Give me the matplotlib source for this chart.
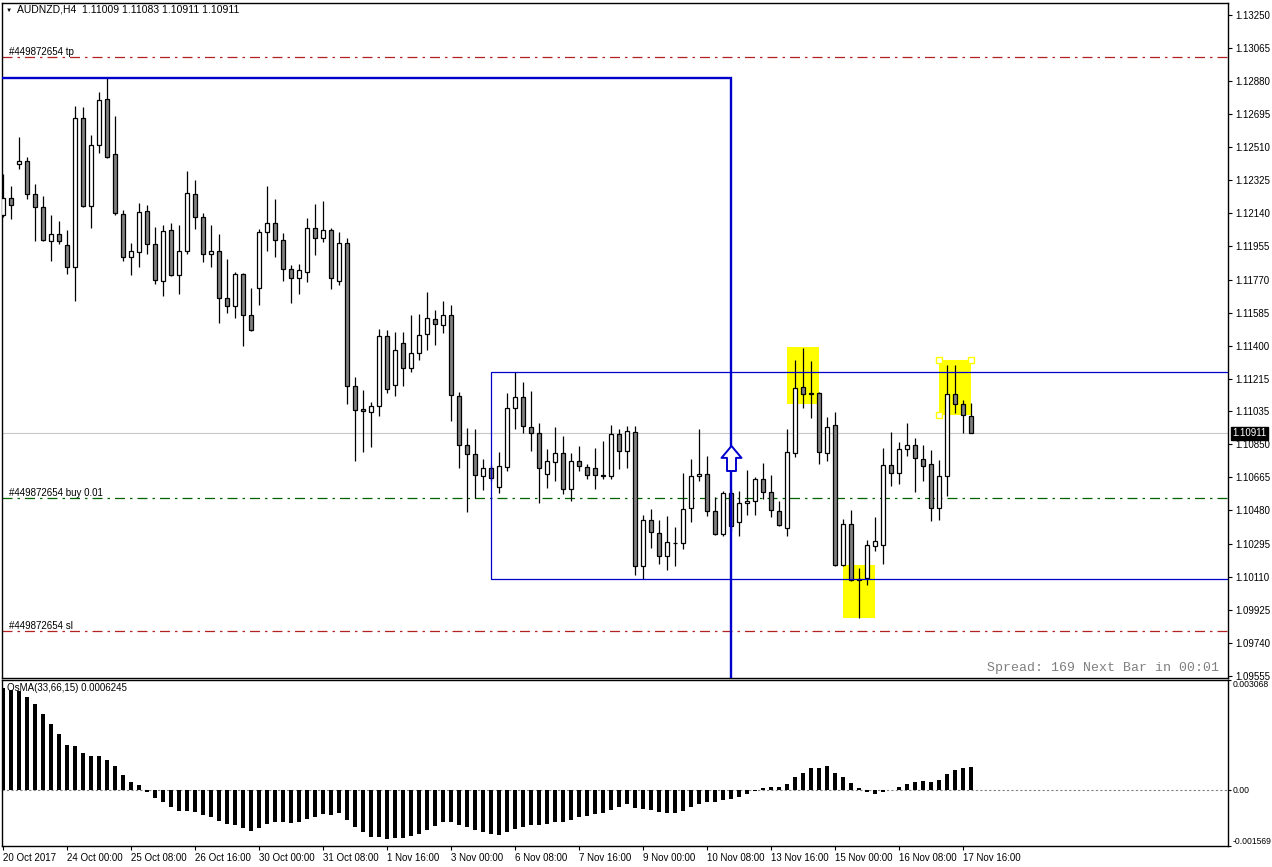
import numpy as np
import matplotlib
matplotlib.use('Agg')
import matplotlib.pyplot as plt
from matplotlib.patches import Rectangle
from matplotlib.path import Path

plt.rcParams['font.family'] = ['Liberation Sans', 'DejaVu Sans']

# AUDNZD H4 candles, 20 Oct 2017 16:00 .. 17 Nov 2017 20:00
opens = [1.12129, 1.12228, 1.12413, 1.12435, 1.12250, 1.12178, 1.11987, 1.12026, 1.11965, 1.11842,
         1.12670, 1.12181, 1.12519, 1.12776, 1.12474, 1.12138, 1.11898, 1.11926, 1.12155, 1.11971,
         1.11763, 1.12049, 1.11797, 1.11931, 1.12250, 1.12122, 1.11915, 1.11931, 1.11668, 1.11624,
         1.11803, 1.11573, 1.11724, 1.12038, 1.12088, 1.11993, 1.11831, 1.11780, 1.11814, 1.12060,
         1.12004, 1.12049, 1.11763, 1.11976, 1.11176, 1.11047, 1.11030, 1.11064, 1.11456, 1.11182,
         1.11417, 1.11277, 1.11361, 1.11467, 1.11551, 1.11517, 1.11573, 1.11120, 1.10846, 1.10795,
         1.10672, 1.10717, 1.10611, 1.10723, 1.11053, 1.11114, 1.10946, 1.10913, 1.10683, 1.10751,
         1.10801, 1.10600, 1.10756, 1.10723, 1.10717, 1.10678, 1.10672, 1.10907, 1.10812, 1.10919,
         1.10169, 1.10426, 1.10353, 1.10225, 1.10299, 1.10297, 1.10493, 1.10672, 1.10683, 1.10476,
         1.10348, 1.10579, 1.10413, 1.10521, 1.10532, 1.10655, 1.10583, 1.10476, 1.10381, 1.10801,
         1.11170, 1.11137, 1.11137, 1.10801, 1.10958, 1.10174, 1.10404, 1.10096, 1.10101, 1.10281,
         1.10286, 1.10734, 1.10689, 1.10823, 1.10846, 1.10767, 1.10739, 1.10493, 1.10672, 1.11131,
         1.11075, 1.11009]
highs = [1.12357, 1.12295, 1.12565, 1.12457, 1.12306, 1.12239, 1.12129, 1.12095, 1.12045, 1.12737,
         1.12732, 1.12575, 1.12816, 1.12895, 1.12683, 1.12161, 1.11976, 1.12200, 1.12189, 1.12062,
         1.12073, 1.12088, 1.12073, 1.12375, 1.12325, 1.12144, 1.12073, 1.12023, 1.11883, 1.11814,
         1.11806, 1.11722, 1.12054, 1.12291, 1.12218, 1.12028, 1.11853, 1.11859, 1.12116, 1.12190,
         1.12211, 1.12060, 1.12038, 1.12004, 1.11226, 1.11154, 1.11086, 1.11495, 1.11489, 1.11478,
         1.11478, 1.11573, 1.11579, 1.11702, 1.11601, 1.11652, 1.11629, 1.11142, 1.10943, 1.10935,
         1.10769, 1.10736, 1.10808, 1.11135, 1.11252, 1.11198, 1.11150, 1.10971, 1.10823, 1.10948,
         1.10896, 1.10801, 1.10840, 1.10739, 1.10829, 1.10868, 1.10959, 1.10935, 1.10952, 1.10952,
         1.10454, 1.10488, 1.10426, 1.10448, 1.10387, 1.10689, 1.10767, 1.10935, 1.10784, 1.10555,
         1.10590, 1.10601, 1.10590, 1.10708, 1.10667, 1.10745, 1.10678, 1.10532, 1.10935, 1.11323,
         1.11385, 1.11317, 1.11140, 1.11002, 1.11032, 1.10432, 1.10482, 1.10157, 1.10314, 1.10443,
         1.10829, 1.10919, 1.10863, 1.10969, 1.10885, 1.10846, 1.10818, 1.10762, 1.11293, 1.11295,
         1.11098, 1.11083]
lows = [1.12119, 1.12108, 1.12390, 1.12222, 1.11985, 1.11985, 1.11873, 1.11968, 1.11800, 1.11649,
        1.12175, 1.12058, 1.12478, 1.12448, 1.12131, 1.11873, 1.11795, 1.11840, 1.11912, 1.11744,
        1.11677, 1.11789, 1.11689, 1.11912, 1.12052, 1.11868, 1.11840, 1.11526, 1.11582, 1.11554,
        1.11398, 1.11480, 1.11627, 1.11929, 1.11896, 1.11763, 1.11638, 1.11689, 1.11756, 1.11907,
        1.11982, 1.11716, 1.11739, 1.11075, 1.10756, 1.10807, 1.10835, 1.11008, 1.11137, 1.11120,
        1.11176, 1.11254, 1.11321, 1.11377, 1.11405, 1.11473, 1.10980, 1.10717, 1.10474, 1.10549,
        1.10596, 1.10646, 1.10575, 1.10702, 1.10933, 1.10911, 1.10810, 1.10519, 1.10605, 1.10644,
        1.10572, 1.10532, 1.10700, 1.10655, 1.10600, 1.10655, 1.10655, 1.10711, 1.10717, 1.10118,
        1.10096, 1.10269, 1.10180, 1.10146, 1.10169, 1.10264, 1.10415, 1.10644, 1.10448, 1.10342,
        1.10337, 1.10366, 1.10338, 1.10457, 1.10452, 1.10544, 1.10441, 1.10392, 1.10337, 1.10776,
        1.11051, 1.10995, 1.10737, 1.10754, 1.10169, 1.10169, 1.10086, 1.09878, 1.10062, 1.10253,
        1.10180, 1.10616, 1.10628, 1.10784, 1.10581, 1.10644, 1.10420, 1.10426, 1.10560, 1.11023,
        1.10913, 1.10911]
closes = [1.12228, 1.12189, 1.12435, 1.12250, 1.12178, 1.11991, 1.12026, 1.11987, 1.11842, 1.12670,
          1.12181, 1.12519, 1.12771, 1.12452, 1.12144, 1.11898, 1.11931, 1.12150, 1.11971, 1.11769,
          1.12043, 1.11797, 1.11931, 1.12256, 1.12122, 1.11915, 1.11931, 1.11668, 1.11624, 1.11803,
          1.11573, 1.11489, 1.12038, 1.12088, 1.11993, 1.11831, 1.11780, 1.11825, 1.12060, 1.12004,
          1.12049, 1.11780, 1.11976, 1.11176, 1.11042, 1.11036, 1.11064, 1.11456, 1.11159, 1.11377,
          1.11277, 1.11361, 1.11461, 1.11556, 1.11523, 1.11573, 1.11126, 1.10846, 1.10795, 1.10678,
          1.10717, 1.10661, 1.10728, 1.11053, 1.11114, 1.10952, 1.10913, 1.10717, 1.10756, 1.10801,
          1.10600, 1.10756, 1.10728, 1.10678, 1.10678, 1.10675, 1.10907, 1.10812, 1.10924, 1.10169,
          1.10426, 1.10359, 1.10225, 1.10303, 1.10297, 1.10488, 1.10672, 1.10683, 1.10476, 1.10348,
          1.10577, 1.10394, 1.10521, 1.10532, 1.10655, 1.10583, 1.10482, 1.10398, 1.10807, 1.11165,
          1.11131, 1.11131, 1.10807, 1.10946, 1.10174, 1.10404, 1.10090, 1.10094, 1.10286, 1.10309,
          1.10734, 1.10689, 1.10823, 1.10846, 1.10773, 1.10728, 1.10493, 1.10672, 1.11131, 1.11075,
          1.11014, 1.10911]

# OsMA(33,66,15) histogram
osma = [0.002848, 0.002802, 0.002755, 0.002598, 0.002403, 0.002124, 0.001846, 0.001568, 0.001262, 0.001234,
        0.001039, 0.000956, 0.000956, 0.000844, 0.000677, 0.000427, 0.000232, 0.000121, -0.000065, -0.000223,
        -0.000353, -0.000482, -0.000594, -0.000603, -0.000622, -0.000705, -0.000761, -0.000881, -0.000956, -0.000983,
        -0.001067, -0.001150, -0.001067, -0.000956, -0.000909, -0.000909, -0.000928, -0.000900, -0.000816, -0.000761,
        -0.000677, -0.000705, -0.000649, -0.000844, -0.001039, -0.001178, -0.001317, -0.001317, -0.001373, -0.001345,
        -0.001336, -0.001290, -0.001234, -0.001123, -0.001011, -0.000909, -0.000909, -0.000983, -0.001039, -0.001123,
        -0.001178, -0.001234, -0.001262, -0.001187, -0.001104, -0.001048, -0.000983, -0.000983, -0.000956, -0.000900,
        -0.000900, -0.000844, -0.000761, -0.000733, -0.000677, -0.000649, -0.000566, -0.000482, -0.000399, -0.000510,
        -0.000538, -0.000566, -0.000622, -0.000649, -0.000649, -0.000594, -0.000482, -0.000399, -0.000343, -0.000343,
        -0.000288, -0.000260, -0.000204, -0.000121, -0.000037, 0.000046, 0.000074, 0.000074, 0.000158, 0.000353,
        0.000482, 0.000603, 0.000603, 0.000659, 0.000464, 0.000353, 0.000186, 0.000046, -0.000065, -0.000121,
        -0.000065, -0.000009, 0.000074, 0.000158, 0.000213, 0.000241, 0.000213, 0.000269, 0.000436, 0.000547,
        0.000603, 0.0006245]

time_labels = ['20 Oct 2017', '24 Oct 00:00', '25 Oct 08:00', '26 Oct 16:00', '30 Oct 00:00',
               '31 Oct 08:00', '1 Nov 16:00', '3 Nov 00:00', '6 Nov 08:00', '7 Nov 16:00',
               '9 Nov 00:00', '10 Nov 08:00', '13 Nov 16:00', '15 Nov 00:00', '16 Nov 08:00',
               '17 Nov 16:00']
price_ticks = [1.13250, 1.13065, 1.12880, 1.12695, 1.12510, 1.12325, 1.12140, 1.11955, 1.11770,
               1.11585, 1.11400, 1.11215, 1.11035, 1.10850, 1.10665, 1.10480, 1.10295, 1.10110,
               1.09925, 1.09740, 1.09555]
osma_ticks = [0.003068, 0.0, -0.001569]
osma_tick_labels = ['0.003068', '0.00', '-0.001569']

# order levels
tp_price = 1.13015
buy_price = 1.10551
sl_price = 1.09807
last_price = 1.10911

# drawn objects (bar index, price)
big_box = (91, 1.12895)             # right edge / top of the large blue box
range_box = (61, 1.10096, 1.11254)  # left edge, bottom, top of the range box
highlights = [(98, 102, 1.11075, 1.11392),
              (105, 109, 1.09878, 1.10176),
              (117, 121, 1.11015, 1.11323)]
arrow_pos = (91, 1.10772)

W, H = 1272, 867
fig = plt.figure(figsize=(W / 100, H / 100), dpi=100)
ax = fig.add_axes([2 / W, 1 - 678 / H, 1226 / W, 675 / H])
ax2 = fig.add_axes([2 / W, 1 - 846 / H, 1226 / W, 166 / H])

o = np.array(opens)
h = np.array(highs)
l = np.array(lows)
c = np.array(closes)
x = np.arange(len(o))
up = c >= o

blue = '#0000CD'

# highlight boxes behind everything
for x0, x1, p0, p1 in highlights:
    ax.add_patch(Rectangle((x0, p0), x1 - x0, p1 - p0, facecolor='#FFFF00', edgecolor='none', zorder=1))
hx0, hx1, hp0, hp1 = highlights[2]
ax.plot([hx0, hx1, hx0], [hp1, hp1, hp0], ls='none', marker='s', ms=4,
        mfc='white', mec='#FFFF00', mew=1, zorder=6)

# order lines
dashdot = (0, (8, 4, 2, 4))
ax.axhline(tp_price, color='#B22222', lw=0.9, ls=dashdot, zorder=2)
ax.axhline(buy_price, color='#006400', lw=0.9, ls=dashdot, zorder=2)
ax.axhline(sl_price, color='#B22222', lw=0.9, ls=dashdot, zorder=2)
ax.axhline(last_price, color='#C8C8C8', lw=0.8, zorder=2)
ytr = ax.get_yaxis_transform()
for p, txt in [(tp_price, '#449872654 tp'), (buy_price, '#449872654 buy 0.01'), (sl_price, '#449872654 sl')]:
    ax.text(0.0057, p, txt, transform=ytr, fontsize=7, va='bottom', ha='left', zorder=7)

# candles
ax.vlines(x, l, h, color='black', lw=0.9, zorder=3)
ax.bar(x, np.abs(c - o), bottom=np.minimum(o, c), width=0.6,
       color=np.where(up, 'white', '#808080'), edgecolor='black', linewidth=0.9, zorder=4)

# blue objects
ax.add_patch(Rectangle((-10, 1.08), big_box[0] + 10, big_box[1] - 1.08, fill=False,
                       edgecolor=blue, lw=1.7, zorder=5))
ax.add_patch(Rectangle((range_box[0], range_box[1]), 300, range_box[2] - range_box[1], fill=False,
                       edgecolor=blue, lw=0.9, zorder=5))
arrow = Path([(0, 1), (0.8, 0.05), (0.36, 0.05), (0.36, -1), (-0.36, -1), (-0.36, 0.05),
              (-0.8, 0.05), (0, 1)], closed=True)
ax.plot(arrow_pos[0], arrow_pos[1], marker=arrow, ms=18, mfc='white', mec=blue, mew=1.4, zorder=6)

ax.set_xlim(-0.125, 153.125)
ax.set_ylim(1.09544, 1.13315)
ax.yaxis.tick_right()
ax.set_yticks(price_ticks)
ax.set_yticklabels([f'{p:.5f}' for p in price_ticks])
ax.tick_params(axis='y', direction='out', length=3, width=0.8, pad=2, labelsize=7)
ax.set_xticks([])
for s in ax.spines.values():
    s.set_linewidth(1)

ax.annotate(f'{last_price:.5f}', xy=(1, last_price), xycoords=ytr, xytext=(3, 0),
            textcoords='offset points', va='center', ha='left', fontsize=7, color='white',
            bbox=dict(boxstyle='square,pad=0.15', fc='black', ec='black'), annotation_clip=False, zorder=8)

fig.text(9 / W, 1 - 10 / H, '\u25BC', fontsize=4.5, va='center', ha='center')
fig.text(17 / W, 1 - 10 / H, 'AUDNZD,H4  1.11009 1.11083 1.10911 1.10911', fontsize=7.5, va='center', ha='left')
fig.text(1219 / W, 1 - 668 / H, 'Spread: 169 Next Bar in 00:01', family='Liberation Mono',
         fontsize=9.5, color='#808080', va='center', ha='right')

# OsMA panel
ax2.bar(x, osma, width=0.4, color='black', zorder=3)
ax2.axhline(0, color='#808080', lw=0.8, ls=(0, (2, 2)), zorder=2)
ax2.set_xlim(-0.125, 153.125)
ax2.set_ylim(-0.001569, 0.003068)
ax2.yaxis.tick_right()
ax2.set_yticks(osma_ticks)
ax2.set_yticklabels(osma_tick_labels)
ax2.tick_params(axis='y', direction='out', length=2, width=0.8, pad=1, labelsize=6.2)
labs = ax2.get_yticklabels()
labs[0].set_va('top')
labs[2].set_va('bottom')
ax2.set_xticks(np.arange(0, len(o), 8))
ax2.set_xticklabels(time_labels, ha='left')
ax2.tick_params(axis='x', direction='out', length=3, width=0.8, pad=2, labelsize=7)
ax2.text(0.004, 0.95, 'OsMA(33,66,15) 0.0006245', transform=ax2.transAxes, fontsize=7,
         va='center', ha='left', zorder=5)
for s in ax2.spines.values():
    s.set_linewidth(1)

fig.savefig('out.png', dpi=100)
